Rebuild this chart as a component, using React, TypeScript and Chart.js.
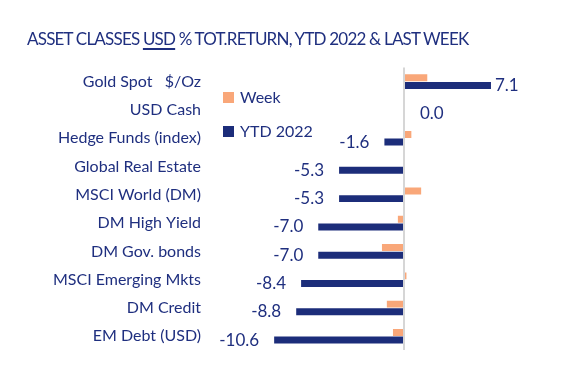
import React, { useEffect, useRef } from 'react';
import { Chart, registerables } from 'chart.js';

Chart.register(...registerables);

const categories = [
  'Gold Spot   $/Oz',
  'USD Cash',
  'Hedge Funds (index)',
  'Global Real Estate',
  'MSCI World (DM)',
  'DM High Yield',
  'DM Gov. bonds',
  'MSCI Emerging Mkts',
  'DM Credit',
  'EM Debt (USD)',
];
const weekValues = [1.9, 0.0, 0.6, 0.0, 1.4, -0.5, -1.8, 0.2, -1.4, -0.9];
const ytdValues = [7.1, 0.0, -1.6, -5.3, -5.3, -7.0, -7.0, -8.4, -8.8, -10.6];
const seriesNames = ['Week', 'YTD 2022'];
const titleBefore = 'ASSET CLASSES ';
const titleUnderlined = 'USD';
const titleAfter = ' % TOT.RETURN, YTD 2022 & LAST WEEK';

const FONT = 'Lato, "Open Sans", sans-serif';
const NAVY = '#1c2d7a';
const ORANGE = '#f9a779';
const TEXT = '#1f2f7f';

export default function App() {
  const ref = useRef<HTMLCanvasElement | null>(null);

  useEffect(() => {
    if (!ref.current) return;

    const labelPlugin = {
      id: 'ytdLabels',
      afterDatasetsDraw(chart: any) {
        const ctx = chart.ctx;
        const meta = chart.getDatasetMeta(1);
        const base = chart.scales.x.getPixelForValue(0);
        ctx.save();
        ctx.font = `17px ${FONT}`;
        ctx.fillStyle = TEXT;
        ctx.textBaseline = 'middle';
        meta.data.forEach((bar: any, i: number) => {
          const v = ytdValues[i];
          let x;
          if (v > 0) {
            ctx.textAlign = 'left';
            x = bar.x + 4;
          } else if (v < 0) {
            ctx.textAlign = 'right';
            x = bar.x - 15;
          } else {
            ctx.textAlign = 'left';
            x = base + 16;
          }
          ctx.fillText(v.toFixed(1), x, bar.y);
        });
        ctx.restore();
      },
    };

    const legendPlugin = {
      id: 'customLegend',
      afterDraw(chart: any) {
        const ctx = chart.ctx;
        ctx.save();
        ctx.font = `16px ${FONT}`;
        ctx.textBaseline = 'middle';
        ctx.textAlign = 'left';
        chart.data.datasets.forEach((ds: any, i: number) => {
          const y = 92 + i * 34;
          ctx.fillStyle = ds.backgroundColor;
          ctx.fillRect(223, y, 11, 11);
          ctx.fillStyle = TEXT;
          ctx.fillText(ds.label, 240, y + 6);
        });
        ctx.restore();
      },
    };

    const chart = new Chart(ref.current, {
      type: 'bar',
      data: {
        labels: categories,
        datasets: [
          {
            label: seriesNames[0],
            data: weekValues,
            backgroundColor: ORANGE,
            categoryPercentage: 0.54,
            barPercentage: 0.91,
          },
          {
            label: seriesNames[1],
            data: ytdValues,
            backgroundColor: NAVY,
            categoryPercentage: 0.54,
            barPercentage: 0.91,
          },
        ],
      },
      options: {
        indexAxis: 'y',
        animation: false,
        responsive: false,
        layout: { padding: { top: 67.5, bottom: 13.5, right: 29, left: 0 } },
        plugins: {
          legend: { display: false },
          tooltip: { enabled: false },
          title: { display: false },
        },
        scales: {
          x: {
            min: -16,
            max: 12,
            ticks: { display: false },
            border: { display: false },
            grid: {
              drawTicks: false,
              lineWidth: 2,
              color: (c: any) => (c.tick && c.tick.value === 0 ? '#d6d6d6' : 'rgba(0,0,0,0)'),
            },
            afterFit: (s: any) => {
              s.height = 0;
            },
          },
          y: {
            ticks: {
              color: TEXT,
              font: { family: FONT, size: 16 },
              padding: 7,
            },
            border: { display: false },
            grid: { display: false, drawTicks: false },
            afterFit: (s: any) => {
              s.width = 208;
            },
          },
        },
      },
      plugins: [labelPlugin, legendPlugin],
    });

    return () => chart.destroy();
  }, []);

  return (
    <div style={{ position: 'fixed', left: 0, top: 0, width: 580, height: 367, background: '#fff' }}>
      <div
        style={{
          position: 'absolute',
          left: 27,
          top: 28,
          fontFamily: FONT,
          fontSize: 17,
          letterSpacing: '-0.8px',
          color: TEXT,
          whiteSpace: 'pre',
          lineHeight: '22px',
        }}
      >
        {titleBefore}
        <span style={{ textDecoration: 'underline', textDecorationThickness: 2, textUnderlineOffset: 3 }}>
          {titleUnderlined}
        </span>
        {titleAfter}
      </div>
      <canvas ref={ref} width={580} height={367} style={{ display: 'block' }} />
    </div>
  );
}
